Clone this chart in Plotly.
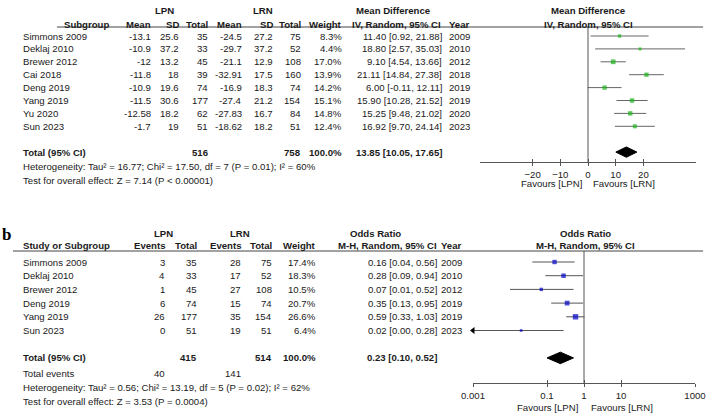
import math
import plotly.graph_objects as go

W, H = 708, 416
FONT = "Liberation Sans, Arial, sans-serif"
FS = 9.6
TXT = "#1a1a1a"

# ---------------- Panel a data (Mean Difference) ----------------
a_studies = ["Simmons 2009", "Deklaj 2010", "Brewer 2012", "Cai 2018",
             "Deng 2019", "Yang 2019", "Yu 2020", "Sun 2023"]
a_lpn_mean = [-13.1, -10.9, -12, -11.8, -10.9, -11.5, -12.58, -1.7]
a_lpn_sd = [25.6, 37.2, 13.2, 18, 19.6, 30.6, 18.2, 19]
a_lpn_n = [35, 33, 45, 39, 74, 177, 62, 51]
a_lrn_mean = [-24.5, -29.7, -21.1, -32.91, -16.9, -27.4, -27.83, -18.62]
a_lrn_sd = [27.2, 37.2, 12.9, 17.5, 18.3, 21.2, 16.7, 18.2]
a_lrn_n = [75, 52, 108, 160, 74, 154, 84, 51]
a_weight = [8.3, 4.4, 17.0, 13.9, 14.2, 15.1, 14.8, 12.4]
a_md = [11.40, 18.80, 9.10, 21.11, 6.00, 15.90, 15.25, 16.92]
a_lo = [0.92, 2.57, 4.54, 14.84, -0.11, 10.28, 9.48, 9.70]
a_hi = [21.88, 35.03, 13.66, 27.38, 12.11, 21.52, 21.02, 24.14]
a_year = [2009, 2010, 2012, 2018, 2019, 2019, 2020, 2023]
a_total_md, a_total_lo, a_total_hi = 13.85, 10.05, 17.65
a_total_n = [516, 758]
a_het = "Heterogeneity: Tau² = 16.77; Chi² = 17.50, df = 7 (P = 0.01); I² = 60%"
a_test = "Test for overall effect: Z = 7.14 (P < 0.00001)"
a_ticks = [-20, -10, 0, 10, 20]
a_range = [-39, 39]

# ---------------- Panel b data (Odds Ratio) ----------------
b_studies = ["Simmons 2009", "Deklaj 2010", "Brewer 2012", "Deng 2019",
             "Yang 2019", "Sun 2023"]
b_lpn_ev = [3, 4, 1, 6, 26, 0]
b_lpn_n = [35, 33, 45, 74, 177, 51]
b_lrn_ev = [28, 17, 27, 15, 35, 19]
b_lrn_n = [75, 52, 108, 74, 154, 51]
b_weight = [17.4, 18.3, 10.5, 20.7, 26.6, 6.4]
b_or = [0.16, 0.28, 0.07, 0.35, 0.59, 0.02]
b_lo = [0.04, 0.09, 0.01, 0.13, 0.33, 0.00]
b_hi = [0.56, 0.94, 0.52, 0.95, 1.03, 0.28]
b_year = [2009, 2010, 2012, 2019, 2019, 2023]
b_total_or, b_total_lo, b_total_hi = 0.23, 0.10, 0.52
b_total_n = [415, 514]
b_total_events = [40, 141]
b_het = "Heterogeneity: Tau² = 0.56; Chi² = 13.19, df = 5 (P = 0.02); I² = 62%"
b_test = "Test for overall effect: Z = 3.53 (P = 0.0004)"
b_ticks = [0.001, 0.1, 1, 10, 1000]
b_ticktext = ["0.001", "0.1", "1", "10", "1000"]
b_axis_min, b_axis_max = 0.001, 1000

# ---------------- layout geometry (pixels) ----------------
A_ROW0, A_SP, A_TOT = 36.0, 12.9, 9      # first row y, spacing, total row index
A_TOP, A_BOT = 27.0, 162.0                 # header underline / x axis line
A_X0, A_X1 = 480.0, 696.0
B_ROW0, B_SP, B_TOT = 262.0, 13.7, 7
B_TOP, B_BOT = 251.0, 383.0
B_X0, B_X1 = 473.0, 695.0

a_yr = [(A_BOT - A_ROW0) / A_SP, (A_TOP - A_ROW0) / A_SP]
b_yr = [(B_BOT - B_ROW0) / B_SP, (B_TOP - B_ROW0) / B_SP]

ann = []


def t(x, y, s, anchor="left", bold=False, size=FS, family=FONT, color=TXT):
    if bold:
        s = "<b>" + s + "</b>"
    ann.append(dict(x=x / W, y=1 - y / H, xref="paper", yref="paper", text=s,
                    showarrow=False, xanchor=anchor, yanchor="middle", align=anchor,
                    borderpad=0,
                    font=dict(family=family, size=size, color=color)))


def fmt(v):
    return str(v)


# ---------- Panel a text ----------
t(164, 10, "LPN", "center", True)
t(263, 10, "LRN", "center", True)
t(393, 10, "Mean Difference", "center", True)
t(588, 10, "Mean Difference", "center", True)
t(63, 24, "Subgroup", "left", True)
for xr, s in [(152, "Mean"), (180, "SD"), (209, "Total"), (243, "Mean"),
              (274, "SD"), (302, "Total"), (343, "Weight"),
              (442, "IV, Random, 95% CI"), (471, "Year")]:
    t(xr, 24, s, "right", True)
t(588, 24, "IV, Random, 95% CI", "center", True)

for i, name in enumerate(a_studies):
    y = A_ROW0 + i * A_SP
    t(22, y, name)
    t(152, y, fmt(a_lpn_mean[i]), "right")
    t(180, y, fmt(a_lpn_sd[i]), "right")
    t(209, y, fmt(a_lpn_n[i]), "right")
    t(243, y, fmt(a_lrn_mean[i]), "right")
    t(274, y, fmt(a_lrn_sd[i]), "right")
    t(302, y, fmt(a_lrn_n[i]), "right")
    t(343, y, f"{a_weight[i]:.1f}%", "right")
    t(443, y, f"{a_md[i]:.2f} [{a_lo[i]:.2f}, {a_hi[i]:.2f}]", "right")
    t(471, y, str(a_year[i]), "right")
yt = A_ROW0 + A_TOT * A_SP
t(22, yt, "Total (95% CI)", "left", True)
t(209, yt, str(a_total_n[0]), "right", True)
t(302, yt, str(a_total_n[1]), "right", True)
t(343, yt, "100.0%", "right", True)
t(443, yt, f"{a_total_md:.2f} [{a_total_lo:.2f}, {a_total_hi:.2f}]", "right", True)
t(22, 166, a_het)
t(22, 180, a_test)
t(583, 183, "Favours [LPN]", "right")
t(592, 183, "Favours [LRN]", "left")

# ---------- Panel b text ----------
t(1, 234, "b", "left", True, size=17, family="Liberation Serif, Times New Roman, serif", color="#000")
t(163, 233, "LPN", "center", True)
t(240, 233, "LRN", "center", True)
t(375, 233, "Odds Ratio", "center", True)
t(585, 233, "Odds Ratio", "center", True)
t(22, 245, "Study or Subgroup", "left", True)
for xr, s in [(166, "Events"), (198, "Total"), (242, "Events"), (273, "Total"),
              (317, "Weight"), (438, "M-H, Random, 95% CI"), (463, "Year")]:
    t(xr, 245, s, "right", True)
t(585, 245, "M-H, Random, 95% CI", "center", True)

for i, name in enumerate(b_studies):
    y = B_ROW0 + i * B_SP
    t(22, y, name)
    t(166, y, str(b_lpn_ev[i]), "right")
    t(198, y, str(b_lpn_n[i]), "right")
    t(242, y, str(b_lrn_ev[i]), "right")
    t(273, y, str(b_lrn_n[i]), "right")
    t(317, y, f"{b_weight[i]:.1f}%", "right")
    t(438, y, f"{b_or[i]:.2f} [{b_lo[i]:.2f}, {b_hi[i]:.2f}]", "right")
    t(463, y, str(b_year[i]), "right")
yt = B_ROW0 + B_TOT * B_SP
t(22, yt, "Total (95% CI)", "left", True)
t(198, yt, str(b_total_n[0]), "right", True)
t(273, yt, str(b_total_n[1]), "right", True)
t(317, yt, "100.0%", "right", True)
t(438, yt, f"{b_total_or:.2f} [{b_total_lo:.2f}, {b_total_hi:.2f}]", "right", True)
t(22, 373, "Total events")
t(166, 373, str(b_total_events[0]), "right")
t(242, 373, str(b_total_events[1]), "right")
t(22, 387, b_het)
t(22, 401, b_test)
t(579, 407, "Favours [LPN]", "right")
t(590, 407, "Favours [LRN]", "left")

# ---------------- traces ----------------
fig = go.Figure()
LINE = "#666666"
GREEN = "#19b419"
BLUE = "#0000c8"

# panel a
a_rows = list(range(len(a_studies)))
xs, ys = [], []
for i in a_rows:
    xs += [a_lo[i], a_hi[i], None]
    ys += [i, i, None]
fig.add_trace(go.Scatter(x=xs, y=ys, mode="lines", line=dict(color=LINE, width=1),
                         xaxis="x", yaxis="y", hoverinfo="skip", showlegend=False))
fig.add_trace(go.Scatter(x=[0, 0], y=a_yr, mode="lines", line=dict(color="#555", width=1),
                         xaxis="x", yaxis="y", hoverinfo="skip", showlegend=False))
fig.add_trace(go.Scatter(x=a_md, y=a_rows, mode="markers",
                         marker=dict(symbol="square", color=GREEN,
                                     size=[max(3, 1.15 * math.sqrt(w)) for w in a_weight],
                                     line=dict(width=0)),
                         xaxis="x", yaxis="y", showlegend=False))
dh = 0.4
fig.add_trace(go.Scatter(x=[a_total_lo, a_total_md, a_total_hi, a_total_md, a_total_lo],
                         y=[A_TOT, A_TOT - dh, A_TOT, A_TOT + dh, A_TOT],
                         mode="lines", fill="toself", fillcolor="black",
                         line=dict(color="black", width=1), xaxis="x", yaxis="y",
                         hoverinfo="skip", showlegend=False))
fig.add_trace(go.Scatter(x=[], y=[], xaxis="x3", yaxis="y", showlegend=False))

# panel b
b_rows = list(range(len(b_studies)))
xs, ys = [], []
for i in b_rows:
    xs += [max(b_lo[i], b_axis_min), b_hi[i], None]
    ys += [i, i, None]
fig.add_trace(go.Scatter(x=xs, y=ys, mode="lines", line=dict(color="#555", width=1),
                         xaxis="x2", yaxis="y2", hoverinfo="skip", showlegend=False))
arrow_rows = [i for i in b_rows if b_lo[i] < b_axis_min]
fig.add_trace(go.Scatter(x=[b_axis_min] * len(arrow_rows), y=arrow_rows, mode="markers",
                         marker=dict(symbol="triangle-left", color="black", size=6),
                         cliponaxis=False, xaxis="x2", yaxis="y2",
                         hoverinfo="skip", showlegend=False))
fig.add_trace(go.Scatter(x=[1, 1], y=b_yr, mode="lines", line=dict(color="#555", width=1),
                         xaxis="x2", yaxis="y2", hoverinfo="skip", showlegend=False))
fig.add_trace(go.Scatter(x=b_or, y=b_rows, mode="markers",
                         marker=dict(symbol="square", color=BLUE,
                                     size=[max(2.5, 1.05 * math.sqrt(w)) for w in b_weight],
                                     line=dict(width=0)),
                         xaxis="x2", yaxis="y2", showlegend=False))
dh = 0.42
fig.add_trace(go.Scatter(x=[b_total_lo, b_total_or, b_total_hi, b_total_or, b_total_lo],
                         y=[B_TOT, B_TOT - dh, B_TOT, B_TOT + dh, B_TOT],
                         mode="lines", fill="toself", fillcolor="black",
                         line=dict(color="black", width=1), xaxis="x2", yaxis="y2",
                         hoverinfo="skip", showlegend=False))
fig.add_trace(go.Scatter(x=[], y=[], xaxis="x4", yaxis="y2", showlegend=False))

# ---------------- shapes (header underlines) ----------------
shapes = [
    dict(type="line", xref="paper", yref="paper", x0=57 / W, x1=703 / W,
         y0=1 - A_TOP / H, y1=1 - A_TOP / H, line=dict(color="#444", width=1)),
    dict(type="line", xref="paper", yref="paper", x0=13 / W, x1=703 / W,
         y0=1 - B_TOP / H, y1=1 - B_TOP / H, line=dict(color="#444", width=1)),
]

ax_common = dict(showgrid=False, zeroline=False, showline=True, linecolor="#555",
                 linewidth=1, ticks="outside", ticklen=3, tickcolor="#555",
                 automargin=False,
                 tickfont=dict(family=FONT, size=FS, color=TXT), fixedrange=True)

fig.update_layout(
    width=W, height=H, margin=dict(l=0, r=0, t=0, b=0, pad=0, autoexpand=False),
    paper_bgcolor="white", plot_bgcolor="rgba(0,0,0,0)",
    showlegend=False, annotations=ann, shapes=shapes,
    xaxis=dict(domain=[A_X0 / W, A_X1 / W], range=a_range, tickvals=a_ticks,
               anchor="y", **ax_common),
    xaxis3=dict(domain=[A_X0 / W, A_X1 / W], range=a_range, tickvals=a_ticks,
                anchor="y", overlaying="x", showgrid=False, zeroline=False,
                showline=False, ticks="inside", ticklen=3, tickcolor="#555",
                showticklabels=False),
    yaxis=dict(domain=[1 - A_BOT / H, 1 - A_TOP / H], range=a_yr, visible=False,
               anchor="x"),
    xaxis2=dict(domain=[B_X0 / W, B_X1 / W], type="log",
                range=[math.log10(b_axis_min), math.log10(b_axis_max)],
                tickvals=b_ticks, ticktext=b_ticktext, anchor="y2", **ax_common),
    xaxis4=dict(domain=[B_X0 / W, B_X1 / W], type="log",
                range=[math.log10(b_axis_min), math.log10(b_axis_max)],
                tickvals=b_ticks, anchor="y2", overlaying="x2", showgrid=False,
                zeroline=False, showline=False, ticks="inside", ticklen=3,
                tickcolor="#555", showticklabels=False),
    yaxis2=dict(domain=[1 - B_BOT / H, 1 - B_TOP / H], range=b_yr, visible=False,
                anchor="x2"),
)

fig.write_html("out.html", config={"displayModeBar": False},
               post_script="document.body.style.margin='0px';")
